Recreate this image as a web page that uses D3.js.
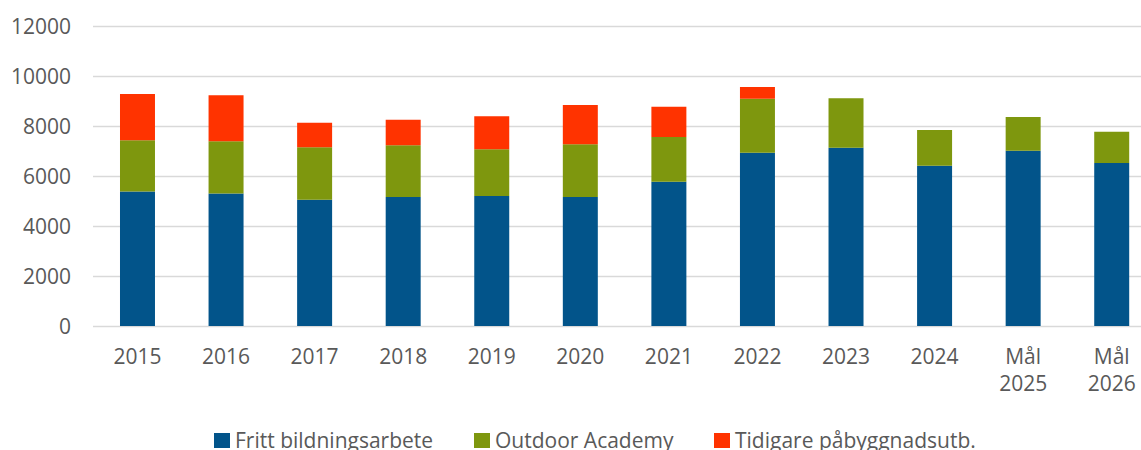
<!DOCTYPE html>
<html>
<head>
<meta charset="utf-8">
<script src="https://cdn.jsdelivr.net/npm/d3@7"></script>
<style>
  html, body { margin: 0; padding: 0; background: #fff; }
  svg { display: block; }
  text { font-family: "Open Sans", sans-serif; fill: #595959; }
</style>
</head>
<body>
<svg id="chart" width="1141" height="450"></svg>
<script>
const categories = ["2015","2016","2017","2018","2019","2020","2021","2022","2023","2024","Mål 2025","Mål 2026"];
const seriesNames = ["Fritt bildningsarbete","Outdoor Academy","Tidigare påbyggnadsutb."];
const frittBildning = [5380,5300,5050,5160,5200,5160,5770,6930,7130,6410,7010,6520];
const outdoorAcademy = [2050,2090,2100,2070,1870,2110,1790,2160,1980,1430,1350,1250];
const tidigarePabyggnad = [1850,1840,980,1020,1320,1570,1210,470,0,0,0,0];
const yTicks = [0,2000,4000,6000,8000,10000,12000];
const colors = ["#02548A","#7E970E","#FF3300"];

const svg = d3.select("#chart");
const x = d3.scaleBand().domain(categories).range([93.2, 1156]).paddingInner(0.605).paddingOuter(0.3025);
const y = d3.scaleLinear().domain([0, 12000]).range([326, 26]);

// gridlines
svg.append("g").selectAll("line").data(yTicks).join("line")
  .attr("x1", 93).attr("x2", 1156)
  .attr("y1", d => Math.round(y(d)) + 0.5).attr("y2", d => Math.round(y(d)) + 0.5)
  .attr("stroke", "#d9d9d9").attr("stroke-width", 1.3);

// y labels
const yAxis = d3.axisLeft(y).tickValues(yTicks).tickSize(0).tickPadding(0).tickFormat(d3.format("d"));
const yg = svg.append("g").attr("transform", "translate(71,0)").call(yAxis);
yg.select(".domain").remove();
yg.selectAll("text").style("font-size", "21px").attr("fill", "#595959").attr("dy", "0.35em");

// stacked data
const table = categories.map((c, i) => ({ cat: c, s0: frittBildning[i], s1: outdoorAcademy[i], s2: tidigarePabyggnad[i] }));
const stack = d3.stack().keys(["s0","s1","s2"])(table);

svg.append("g").selectAll("g").data(stack).join("g")
  .attr("fill", (d, i) => colors[i])
  .selectAll("rect").data(d => d.filter(p => p[1] - p[0] > 0)).join("rect")
  .attr("x", d => x(d.data.cat))
  .attr("width", x.bandwidth())
  .attr("y", d => y(d[1]))
  .attr("height", d => y(d[0]) - y(d[1]));

// x labels
const xAxis = d3.axisBottom(x).tickSize(0).tickPadding(0);
const xg = svg.append("g").attr("transform", "translate(0,326)").call(xAxis);
xg.select(".domain").remove();
xg.selectAll(".tick text").each(function(d) {
  const t = d3.select(this);
  t.text(null).attr("y", 0).attr("dy", null).style("font-size", "21px").attr("fill", "#595959");
  const parts = d.split(" ");
  parts.forEach((p, i) => {
    t.append("tspan").attr("x", 0).attr("y", 38 + i * 27).text(p);
  });
});

// legend
const legendX = [214, 474, 714];
const lg = svg.append("g");
seriesNames.forEach((name, i) => {
  lg.append("rect").attr("x", legendX[i]).attr("y", 433).attr("width", 16).attr("height", 15).attr("fill", colors[i]);
  lg.append("text").attr("x", legendX[i] + 21).attr("y", 448).style("font-size", "21px").text(name);
});
</script>
</body>
</html>
